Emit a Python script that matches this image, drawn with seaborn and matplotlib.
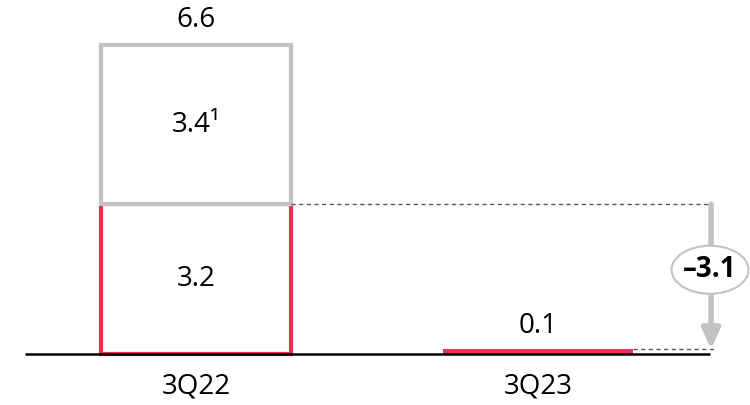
import matplotlib
matplotlib.use("Agg")
import matplotlib.pyplot as plt
from matplotlib.patches import Ellipse
import seaborn as sns
import pandas as pd

# Quarterly values (bottom segment, optional top segment, totals)
quarters = ["3Q22", "3Q23"]
base_values = [3.2, 0.1]
extra_values = [3.4, 0.0]
totals = [6.6, 0.1]
change = -3.1

RED = "#e8314c"
GREY = "#c3c3c3"

sns.set_theme(style="white")
plt.rcParams["font.family"] = ["Open Sans", "DejaVu Sans"]
plt.rcParams["text.color"] = "black"
plt.rcParams["xtick.color"] = "black"

fig = plt.figure(figsize=(7.5, 4.05), dpi=100)
ax = fig.add_axes([0, 51 / 405, 1, 354 / 405])

base_df = pd.DataFrame({"quarter": quarters, "value": base_values})
extra_df = pd.DataFrame({"quarter": quarters[:1], "value": extra_values[:1],
                         "bottom": base_values[:1]})

width = 0.556
sns.barplot(data=base_df, x="quarter", y="value", order=quarters, ax=ax,
            width=width, color="white", edgecolor=RED, linewidth=3,
            saturation=1)
for p, v in zip(ax.patches, base_values):
    if v < 0.5:
        # thin bars are drawn as a solid strip
        p.set_facecolor(RED)
        p.set_linewidth(0)
sns.barplot(data=extra_df, x="quarter", y="value", order=quarters, ax=ax,
            width=width, color="white", edgecolor=GREY, linewidth=3,
            saturation=1, bottom=extra_df["bottom"].values)
for p in ax.patches:
    p.set_clip_on(False)

ax.set_xlim(-196 / 342, (750 - 196) / 342)
px_per_unit = 46.8
ax.set_ylim(0, 354 / px_per_unit)

# Baseline
ax.plot([-0.5, 1.503], [0, 0], color="black", lw=1.8, clip_on=False,
        solid_capstyle="butt", zorder=5)

# Reference dashed lines
x_right = 1.506
ax.plot([0 + width / 2, x_right], [base_values[0], base_values[0]],
        color="#555555", lw=1, ls=(0, (3, 2.5)), zorder=4)
ax.plot([1 + width / 2, x_right + 0.01], [base_values[1], base_values[1]],
        color="#555555", lw=1, ls=(0, (3, 2.5)), zorder=4)

# Change arrow
ax.annotate("", xy=(x_right, base_values[1]), xytext=(x_right, base_values[0]),
            arrowprops=dict(arrowstyle="-|>,head_width=0.45,head_length=1.0",
                            color=GREY, lw=4, shrinkA=0, shrinkB=0),
            zorder=3)
ell_y = (base_values[0] + base_values[1]) / 2 + 0.15
ax.add_patch(Ellipse((1.503, ell_y), 77 / 342, 48 / px_per_unit,
                     facecolor="white", edgecolor=GREY, lw=1.5, zorder=6))
ax.text(1.503, ell_y, f"\u2013{abs(change):.1f}", ha="center", va="center",
        fontsize=20, fontweight="bold", color="black", zorder=7)

# Value labels
fs = 20
ax.annotate(f"{totals[0]:.1f}", (0, totals[0]), xytext=(0, 8),
            textcoords="offset points", ha="center", va="bottom", fontsize=fs)
ax.text(0, base_values[0] + extra_values[0] / 2, f"{extra_values[0]:.1f}\u00b9",
        ha="center", va="center", fontsize=fs)
ax.text(0, base_values[0] / 2, f"{base_values[0]:.1f}",
        ha="center", va="center", fontsize=fs)
ax.annotate(f"{base_values[1]:.1f}", (1, base_values[1]), xytext=(0, 7),
            textcoords="offset points", ha="center", va="bottom", fontsize=fs)

ax.set_xlabel("")
ax.set_ylabel("")
ax.set_yticks([])
ax.tick_params(axis="x", length=0, pad=13, labelsize=fs, labelcolor="black")
sns.despine(ax=ax, left=True, bottom=True)

fig.savefig("out.png", dpi=100)
